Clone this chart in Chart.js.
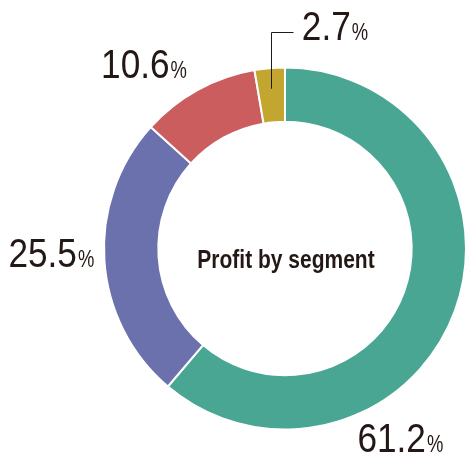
<!DOCTYPE html>
<html>
<head>
<meta charset="utf-8">
<script src="https://cdn.jsdelivr.net/npm/chart.js@4.4.1/dist/chart.umd.min.js"></script>
<style>
  html, body { margin: 0; padding: 0; background: #ffffff; overflow: hidden; }
  #wrap { position: absolute; left: 0; top: 0; width: 470px; height: 458px; }
</style>
</head>
<body>
<div id="wrap"><canvas id="c" width="470" height="458"></canvas></div>
<script>
// ---- Data ----
const categories = ['Segment A', 'Segment B', 'Segment C', 'Segment D'];
const profitShare = [61.2, 25.5, 10.6, 2.7];
const segmentColors = ['#48a693', '#6a71ad', '#cb5d5e', '#c2a630'];
const centerTitle = 'Profit by segment';

const TEXT = '#231815';

// label placement relative to chart centre, in units of the outer radius
const labelPlacement = [
  { dx: 0.40, dy: 1.127 },   // 61.2
  { dx: -1.528, dy: 0.104 }, // 25.5
  { dx: -1.016, dy: -0.94 }, // 10.6
  { dx: 0.093, dy: -1.154, leader: true } // 2.7
];

function drawScaledText(ctx, txt, x, y, font, sx) {
  ctx.save();
  ctx.font = font;
  ctx.translate(x, y);
  ctx.scale(sx, 1);
  ctx.fillText(txt, 0, 0);
  const w = ctx.measureText(txt).width * sx;
  ctx.restore();
  return w;
}

const labelPlugin = {
  id: 'labelPlugin',
  afterDraw(chart) {
    const ctx = chart.ctx;
    const meta = chart.getDatasetMeta(0);
    ctx.save();
    ctx.fillStyle = TEXT;
    ctx.textBaseline = 'alphabetic';
    ctx.textAlign = 'left';
    meta.data.forEach((arc, i) => {
      const p = arc.getProps(['x', 'y', 'outerRadius', 'innerRadius', 'startAngle', 'endAngle'], true);
      const r = p.outerRadius;
      const pl = labelPlacement[i];
      const x = p.x + pl.dx * r;
      const y = p.y + pl.dy * r;
      const num = profitShare[i].toFixed(1);
      const w = drawScaledText(ctx, num, x, y, '40px "Liberation Sans", Arial, sans-serif', 0.88);
      drawScaledText(ctx, '%', x + w + 1, y, '23px "Liberation Sans", Arial, sans-serif', 0.8);
      if (pl.leader) {
        const mid = (p.startAngle + p.endAngle) / 2;
        const rr = p.innerRadius + 0.62 * (p.outerRadius - p.innerRadius);
        const sx = p.x + Math.cos(mid) * rr;
        const sy = p.y + Math.sin(mid) * rr;
        const ly = p.y - 1.195 * r;
        ctx.strokeStyle = TEXT;
        ctx.lineWidth = 1;
        ctx.beginPath();
        const px = Math.round(sx) + 0.5;
        ctx.moveTo(px, sy);
        ctx.lineTo(px, Math.round(ly) + 0.5);
        ctx.lineTo(px + 22, Math.round(ly) + 0.5);
        ctx.stroke();
      }
    });
    // centre title
    const a0 = meta.data[0];
    const cx = a0.x, cy = a0.y;
    ctx.save();
    ctx.font = 'bold 25px "Liberation Sans", Arial, sans-serif';
    const tw = ctx.measureText(centerTitle).width * 0.84;
    ctx.translate(cx - tw / 2 + 1, cy + 19);
    ctx.scale(0.84, 1);
    ctx.fillText(centerTitle, 0, 0);
    ctx.restore();
    ctx.restore();
  }
};

new Chart(document.getElementById('c'), {
  type: 'doughnut',
  data: {
    labels: categories,
    datasets: [{
      data: profitShare,
      backgroundColor: segmentColors,
      borderColor: '#ffffff',
      borderWidth: 2,
      hoverOffset: 0
    }]
  },
  options: {
    responsive: false,
    animation: false,
    cutout: '70%',
    layout: { padding: { left: 103, right: 3, top: 66, bottom: 27 } },
    plugins: {
      legend: { display: false },
      tooltip: { enabled: false }
    }
  },
  plugins: [labelPlugin]
});
</script>
</body>
</html>
